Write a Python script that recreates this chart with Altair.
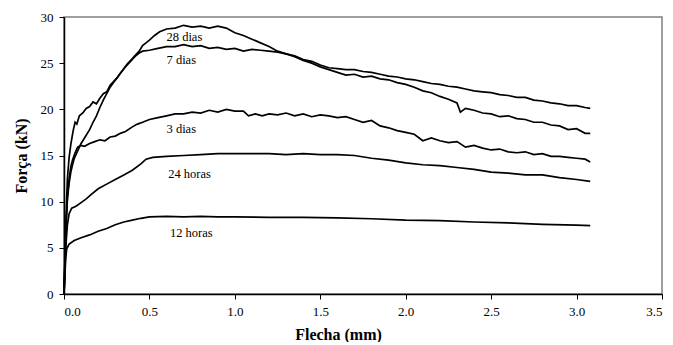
import altair as alt
import pandas as pd

# ---- data: (Flecha mm, Força kN) ----
s28 = [(0,0),(0.005,3.5),(0.01,7),(0.015,10),(0.02,12.5),(0.03,14.8),(0.04,16.2),(0.05,17.3),(0.055,17.8),
       (0.065,18.6),(0.075,18.4),(0.09,19.3),(0.11,19.6),(0.13,20.1),(0.15,20.3),(0.17,20.8),(0.19,20.6),
       (0.21,21.2),(0.23,21.7),(0.25,21.9),(0.27,22.6),(0.29,23.0),(0.31,23.4),(0.33,23.9),(0.35,24.4),
       (0.37,24.9),(0.40,25.5),(0.42,25.9),(0.44,26.3),(0.46,26.9),(0.48,27.2),(0.50,27.5),(0.53,28.0),
       (0.56,28.4),(0.60,28.7),(0.65,28.8),(0.70,29.1),(0.75,28.9),(0.80,29.0),(0.85,28.8),(0.90,29.0),
       (0.95,28.8),(1.00,28.3),(1.05,28.0),(1.10,27.6),(1.15,27.2),(1.20,26.8),(1.25,26.3),(1.30,26.0),
       (1.35,25.7),(1.40,25.3),(1.45,25.0),(1.50,24.6),(1.55,24.3),(1.60,24.0),(1.65,23.7),(1.70,23.8),
       (1.75,23.5),(1.80,23.6),(1.85,23.3),(1.90,23.2),(1.95,22.9),(2.00,22.7),(2.05,22.4),(2.10,22.0),
       (2.15,21.8),(2.20,21.4),(2.25,21.1),(2.30,20.7),(2.32,19.7),(2.35,20.1),(2.40,19.9),(2.45,19.6),
       (2.50,19.5),(2.55,19.2),(2.60,19.3),(2.65,19.0),(2.70,18.9),(2.75,18.6),(2.80,18.6),(2.85,18.3),
       (2.90,18.2),(2.95,17.8),(3.00,17.9),(3.05,17.4),(3.08,17.4)]

s7 = [(0,0),(0.005,3),(0.01,6),(0.015,8.5),(0.02,10.3),(0.03,12),(0.04,13.2),(0.05,14),(0.06,14.7),
      (0.08,15.5),(0.10,16.3),(0.12,16.9),(0.15,17.8),(0.17,18.6),(0.19,19.3),(0.21,20.2),(0.23,21.0),
      (0.25,21.7),(0.27,22.4),(0.29,22.9),(0.31,23.4),(0.33,23.9),(0.35,24.4),(0.37,24.8),(0.40,25.4),
      (0.42,25.8),(0.44,26.1),(0.46,26.3),(0.50,26.4),(0.55,26.6),(0.60,26.8),(0.65,26.8),(0.70,27.0),
      (0.75,26.8),(0.80,26.9),(0.85,26.6),(0.90,26.7),(0.95,26.5),(1.00,26.6),(1.05,26.3),(1.10,26.5),
      (1.15,26.4),(1.20,26.3),(1.25,26.2),(1.30,26.0),(1.35,25.8),(1.40,25.4),(1.45,25.2),(1.50,24.8),
      (1.55,24.5),(1.60,24.4),(1.65,24.3),(1.70,24.3),(1.75,24.1),(1.80,24.0),(1.85,23.8),(1.90,23.6),
      (1.95,23.5),(2.00,23.3),(2.05,23.2),(2.10,23.0),(2.15,22.8),(2.20,22.7),(2.25,22.5),(2.30,22.4),
      (2.35,22.2),(2.40,22.0),(2.45,21.9),(2.50,21.8),(2.55,21.6),(2.60,21.5),(2.65,21.3),(2.70,21.3),
      (2.75,21.0),(2.80,20.9),(2.85,20.7),(2.90,20.6),(2.95,20.4),(3.00,20.4),(3.05,20.2),(3.08,20.1)]

s3 = [(0,0),(0.005,3),(0.01,6),(0.015,8.5),(0.02,10.5),(0.03,12.5),(0.04,13.8),(0.05,14.5),(0.065,15.3),
      (0.08,15.9),(0.10,16.1),(0.12,16.0),(0.15,16.3),(0.18,16.5),(0.21,16.7),(0.24,16.6),(0.27,17.0),
      (0.30,17.1),(0.33,17.4),(0.36,17.6),(0.40,18.1),(0.43,18.4),(0.46,18.6),(0.50,18.9),(0.55,19.1),
      (0.60,19.3),(0.65,19.5),(0.70,19.5),(0.75,19.7),(0.80,19.6),(0.85,19.9),(0.90,19.7),(0.95,20.0),
      (1.00,19.8),(1.05,19.8),(1.08,19.3),(1.12,19.5),(1.16,19.3),(1.20,19.5),(1.25,19.4),(1.30,19.6),
      (1.35,19.3),(1.40,19.5),(1.45,19.2),(1.50,19.4),(1.55,19.3),(1.60,19.1),(1.65,19.2),(1.70,18.9),
      (1.75,18.6),(1.80,18.8),(1.85,18.2),(1.90,18.0),(1.95,17.7),(2.00,17.5),(2.05,17.3),(2.10,16.6),
      (2.15,16.9),(2.20,16.6),(2.25,16.4),(2.30,16.5),(2.35,15.9),(2.40,16.1),(2.45,15.8),(2.50,15.6),
      (2.55,15.7),(2.60,15.4),(2.65,15.3),(2.70,15.4),(2.75,15.1),(2.80,15.2),(2.85,14.9),(2.90,14.9),
      (2.95,14.8),(3.00,14.7),(3.05,14.6),(3.08,14.3)]

s24h = [(0,0),(0.005,2.5),(0.01,5),(0.02,7.5),(0.03,8.7),(0.045,9.3),(0.07,9.5),(0.10,9.9),(0.13,10.3),
        (0.16,10.8),(0.20,11.4),(0.25,11.9),(0.30,12.4),(0.35,12.9),(0.40,13.4),(0.45,14.1),(0.48,14.6),
        (0.52,14.8),(0.60,14.9),(0.70,15.0),(0.80,15.1),(0.90,15.2),(1.00,15.2),(1.10,15.2),(1.20,15.2),
        (1.30,15.1),(1.40,15.2),(1.50,15.1),(1.60,15.1),(1.70,15.0),(1.80,14.7),(1.90,14.5),(2.00,14.2),
        (2.10,14.0),(2.20,13.9),(2.30,13.7),(2.40,13.5),(2.50,13.2),(2.60,13.1),(2.70,12.9),(2.80,12.9),
        (2.90,12.6),(3.00,12.4),(3.08,12.2)]

s12h = [(0,0),(0.005,2.0),(0.01,3.8),(0.016,4.9),(0.03,5.4),(0.06,5.8),(0.10,6.1),(0.15,6.4),(0.20,6.8),
        (0.25,7.1),(0.30,7.5),(0.35,7.8),(0.40,8.0),(0.45,8.2),(0.50,8.35),(0.60,8.4),(0.70,8.35),
        (0.80,8.4),(0.90,8.35),(1.00,8.35),(1.20,8.3),(1.40,8.3),(1.60,8.25),(1.80,8.15),(2.00,8.0),
        (2.20,7.95),(2.40,7.8),(2.60,7.7),(2.80,7.55),(3.00,7.45),(3.08,7.4)]

series_names = ["28 dias", "7 dias", "3 dias", "24 horas", "12 horas"]
series_points = [s28, s7, s3, s24h, s12h]

label_texts = ["28 dias", "7 dias", "3 dias", "24 horas", "12 horas"]
label_x = [0.60, 0.60, 0.60, 0.61, 0.62]
label_y = [27.8, 25.3, 17.85, 13.0, 6.6]

x_ticks = [0.0, 0.5, 1.0, 1.5, 2.0, 2.5, 3.0, 3.5]
y_ticks = [0, 5, 10, 15, 20, 25, 30]

rows = []
for name, pts in zip(series_names, series_points):
    for i, (xv, yv) in enumerate(pts):
        rows.append({"serie": name, "idx": i, "x": xv, "y": yv})
df = pd.DataFrame(rows)
labels = pd.DataFrame({"t": label_texts, "x": label_x, "y": label_y})

xscale = alt.Scale(domain=[0, 3.5], nice=False, zero=False)
yscale = alt.Scale(domain=[0, 30], nice=False)

lines = alt.Chart(df).mark_line(color="black", strokeWidth=1.7).encode(
    x=alt.X("x:Q", scale=xscale,
            axis=alt.Axis(values=x_ticks, format=".1f", title="Flecha (mm)",
                          titleX=274, titleY=45, titleBaseline="alphabetic")),
    y=alt.Y("y:Q", scale=yscale,
            axis=alt.Axis(values=y_ticks, title="Força (kN)", titlePadding=11)),
    detail="serie:N",
    order="idx:Q",
)

texts = alt.Chart(labels).mark_text(align="left", baseline="middle", fontSize=12.5,
                                     font="Liberation Serif", color="black").encode(
    x=alt.X("x:Q", scale=xscale),
    y=alt.Y("y:Q", scale=yscale),
    text="t:N",
)

chart = (lines + texts).properties(
    width=598, height=277,
    autosize=alt.AutoSizeParams(type="none"),
    padding={"left": 56, "top": 9, "right": 3, "bottom": 48},
).configure(font="Liberation Serif").configure_view(
    stroke="#808080", strokeWidth=1.5
).configure_axis(
    grid=False, domainColor="black", domainWidth=1.5, tickColor="black", tickSize=5,
    tickWidth=1, labelPadding=6, labelFontSize=13, labelColor="black",
    labelFont="Liberation Serif", titleFont="Liberation Serif",
    titleFontSize=16, titleFontWeight="bold", titleColor="black",
)

chart.save("out.html", embed_options={"renderer": "svg", "actions": False})
